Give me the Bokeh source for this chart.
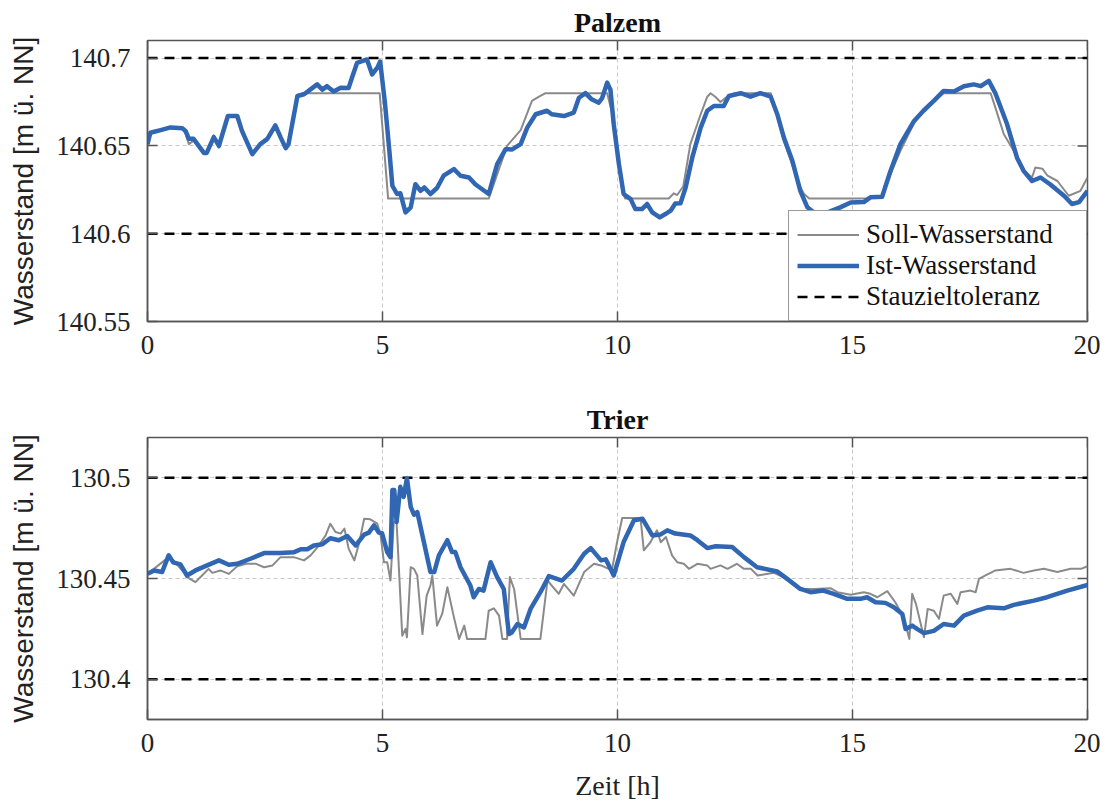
import math
from bokeh.plotting import figure
from bokeh.layouts import column
from bokeh.models import (FixedTicker, Legend, LegendItem, Range1d, CustomJSTickFormatter)
from bokeh.embed import file_html
from bokeh.resources import INLINE

# ---------------- data ----------------
X_TICKS = [0, 5, 10, 15, 20]
X_LIMITS = [0, 20]

# Palzem
P_Y_TICKS = [140.55, 140.6, 140.65, 140.7]
P_Y_LIMITS = [140.55, 140.71]
P_TOL = [140.6, 140.7]

P_IST_T = [0, 0.06, 0.28, 0.49, 0.74, 0.81, 0.88, 0.98, 1.2, 1.26, 1.41, 1.52, 1.71, 1.91, 2.01,
           2.23, 2.40, 2.55, 2.72, 2.83, 2.94, 3.0, 3.19, 3.33, 3.47, 3.61, 3.72, 3.82, 3.96, 4.11,
           4.28, 4.35, 4.46, 4.67, 4.78, 4.89, 4.95, 5.05, 5.14, 5.21, 5.31, 5.38, 5.49, 5.60, 5.70,
           5.81, 5.89, 6.02, 6.16, 6.30, 6.52, 6.66, 6.84, 6.98, 7.26, 7.44, 7.62, 7.76, 7.94, 8.08,
           8.26, 8.50, 8.60, 8.86, 9.07, 9.18, 9.32, 9.45, 9.60, 9.67, 9.78, 9.85, 9.92, 10.03, 10.13,
           10.28, 10.38, 10.52, 10.63, 10.74, 10.90, 11.02, 11.13, 11.23, 11.34, 11.45, 11.59, 11.77,
           11.91, 12.05, 12.26, 12.37, 12.62, 12.83, 13.04, 13.26, 13.40, 13.54, 13.72, 13.89, 14.04,
           14.18, 14.46, 14.74, 14.96, 15.24, 15.38, 15.63, 15.81, 16.02, 16.31, 16.51, 16.73, 16.94,
           17.16, 17.37, 17.58, 17.73, 17.90, 18.04, 18.29, 18.50, 18.64, 18.82, 19.0, 19.21, 19.50,
           19.67, 19.82, 20.0]
P_IST = [140.651, 140.6575, 140.659, 140.6605, 140.660, 140.6585, 140.654, 140.654, 140.646, 140.646,
         140.655, 140.650, 140.667, 140.667, 140.6585, 140.6453, 140.651, 140.654, 140.6617, 140.655,
         140.6487, 140.651, 140.6784, 140.6794, 140.6822, 140.685, 140.682, 140.684, 140.681, 140.6831,
         140.683, 140.6888, 140.6973, 140.6992, 140.6907, 140.6945, 140.698, 140.675, 140.649, 140.6273,
         140.6226, 140.623, 140.6121, 140.615, 140.6282, 140.6244, 140.6263, 140.6226, 140.626, 140.633,
         140.6368, 140.633, 140.632, 140.628, 140.6226, 140.6396, 140.6481, 140.648, 140.651, 140.6604,
         140.668, 140.670, 140.668, 140.667, 140.669, 140.6774, 140.680, 140.6765, 140.6746, 140.677,
         140.686, 140.682, 140.6623, 140.6396, 140.6226, 140.6197, 140.614, 140.614, 140.6169, 140.6121,
         140.6093, 140.6112, 140.6131, 140.6172, 140.6173, 140.6263, 140.6433, 140.6604, 140.670,
         140.6727, 140.6727, 140.6784, 140.680, 140.678, 140.680, 140.678, 140.668, 140.6547, 140.6415,
         140.6244, 140.615, 140.6121, 140.612, 140.615, 140.6178, 140.618, 140.6207, 140.621, 140.6358,
         140.651, 140.6642, 140.670, 140.6756, 140.6813, 140.681, 140.684, 140.685, 140.684, 140.687,
         140.680, 140.6623, 140.6433, 140.6358, 140.630, 140.632, 140.628, 140.6216, 140.6169, 140.618,
         140.6244]

P_SOLL_T = [0, 0.06, 0.28, 0.49, 0.74, 0.81, 0.88, 0.98, 1.2, 1.26, 1.41, 1.52, 1.71, 1.91, 2.01,
            2.23, 2.40, 2.55, 2.72, 2.83, 2.94, 3.0, 3.19, 3.3, 4.94, 5.12, 7.26, 7.65, 7.94, 8.18,
            8.33, 8.47, 9.78, 9.92, 10.03, 10.1, 10.16, 11.09, 11.2, 11.27, 11.4, 11.55, 11.77, 11.91,
            11.98, 12.08, 12.19, 12.33, 12.5, 13.26, 13.54, 13.89, 13.97, 14.08, 14.89, 15.3, 15.63,
            15.81, 16.02, 16.31, 16.51, 16.73, 16.94, 17.94, 18.04, 18.22, 18.43, 18.64, 18.82, 18.89,
            19.04, 19.15, 19.36, 19.6, 19.85, 20.0]
P_SOLL = [140.651, 140.657, 140.659, 140.660, 140.660, 140.657, 140.651, 140.653, 140.647, 140.646,
          140.656, 140.649, 140.667, 140.667, 140.658, 140.645, 140.651, 140.654, 140.661, 140.655,
          140.649, 140.651, 140.678, 140.68, 140.68, 140.62, 140.62, 140.65, 140.659, 140.6756,
          140.678, 140.68, 140.68, 140.665, 140.642, 140.625, 140.62, 140.62, 140.623, 140.622,
          140.627, 140.651, 140.668, 140.678, 140.680, 140.678, 140.675, 140.678, 140.68, 140.68,
          140.6528, 140.6263, 140.6226, 140.62, 140.62, 140.62, 140.621, 140.634, 140.6472, 140.663,
          140.670, 140.676, 140.68, 140.68, 140.6718, 140.6566, 140.6472, 140.636, 140.632, 140.6377,
          140.637, 140.633, 140.630, 140.6216, 140.6244, 140.632]

# Trier
T_Y_TICKS = [130.4, 130.45, 130.5]
T_Y_LIMITS = [130.38, 130.52]
T_TOL = [130.4, 130.5]

T_IST_T = [0, 0.14, 0.31, 0.45, 0.55, 0.70, 0.84, 1.02, 1.27, 1.52, 1.73, 1.91, 2.19, 2.48, 2.83,
           3.11, 3.26, 3.40, 3.54, 3.72, 3.89, 4.07, 4.25, 4.43, 4.61, 4.71, 4.82, 4.92, 4.99, 5.10,
           5.17, 5.21, 5.25, 5.30, 5.38, 5.45, 5.52, 5.60, 5.67, 5.74, 5.88, 6.02, 6.10, 6.20, 6.38,
           6.48, 6.55, 6.66, 6.87, 6.94, 7.05, 7.15, 7.30, 7.44, 7.58, 7.69, 7.75, 7.87, 8.01, 8.15,
           8.36, 8.54, 8.82, 9.07, 9.29, 9.43, 9.65, 9.75, 9.92, 10.13, 10.35, 10.53, 10.74, 10.91,
           11.06, 11.23, 11.55, 11.70, 11.91, 12.09, 12.44, 12.69, 12.97, 13.40, 13.61, 13.89, 14.11,
           14.38, 14.60, 14.89, 15.17, 15.31, 15.49, 15.70, 15.88, 16.06, 16.13, 16.27, 16.38, 16.52,
           16.73, 16.94, 17.16, 17.37, 17.65, 17.87, 18.22, 18.43, 18.86, 19.14, 19.57, 20.0]
T_IST = [130.4523, 130.454, 130.4532, 130.4615, 130.458, 130.457, 130.4515, 130.454, 130.4565,
         130.459, 130.4568, 130.4573, 130.4598, 130.4626, 130.4626, 130.463, 130.4645, 130.4645,
         130.4664, 130.467, 130.470, 130.469, 130.4711, 130.4664, 130.4718, 130.4728, 130.4764,
         130.4728, 130.4725, 130.4631, 130.4606, 130.4939, 130.4939, 130.478, 130.4955, 130.4905,
         130.4997, 130.4856, 130.4817, 130.483, 130.4681, 130.4532, 130.4532, 130.4615, 130.469,
         130.4631, 130.4631, 130.4556, 130.4465, 130.4407, 130.4448, 130.444, 130.4581, 130.4507,
         130.4448, 130.4224, 130.4232, 130.4274, 130.4257, 130.4349, 130.4432, 130.4512, 130.449,
         130.4548, 130.4623, 130.4651, 130.459, 130.4595, 130.4515, 130.4681, 130.4789, 130.4797,
         130.4714, 130.4718, 130.4739, 130.4723, 130.4714, 130.469, 130.4651, 130.466, 130.4656,
         130.4606, 130.4556, 130.4535, 130.4498, 130.4448, 130.4432, 130.444, 130.4424, 130.4399,
         130.4399, 130.4407, 130.4382, 130.4379, 130.4357, 130.4324, 130.4249, 130.4266, 130.4249,
         130.4229, 130.424, 130.4274, 130.4266, 130.4316, 130.4341, 130.4357, 130.4352, 130.4369,
         130.439, 130.4407, 130.444, 130.4468]

T_SOLL_T = [0, 0.45, 0.55, 0.77, 0.84, 1.02, 1.16, 1.30, 1.38, 1.55, 1.73, 1.91, 2.10, 2.31, 2.48,
            2.66, 2.83, 3.11, 3.33, 3.47, 3.62, 3.79, 3.89, 4.00, 4.11, 4.19, 4.28, 4.40, 4.50, 4.61,
            4.74, 4.89, 4.96, 5.03, 5.10, 5.17, 5.24, 5.30, 5.42, 5.49, 5.52, 5.60, 5.67, 5.74, 5.85,
            5.94, 6.02, 6.06, 6.16, 6.27, 6.38, 6.52, 6.63, 6.74, 6.80, 7.19, 7.26, 7.37, 7.48, 7.55,
            7.65, 7.71, 7.80, 7.94, 8.36, 8.51, 8.75, 8.86, 9.07, 9.29, 9.50, 9.65, 9.88, 9.99, 10.10,
            10.49, 10.56, 10.70, 10.84, 10.92, 11.03, 11.16, 11.27, 11.41, 11.52, 11.70, 11.91, 11.98,
            12.19, 12.34, 12.54, 12.69, 12.84, 12.98, 13.33, 13.61, 13.89, 14.18, 14.53, 14.68, 14.96,
            15.24, 15.38, 15.53, 15.74, 15.91, 16.09, 16.21, 16.27, 16.35, 16.52, 16.60, 16.73, 16.84,
            16.94, 17.09, 17.23, 17.30, 17.51, 17.62, 17.69, 17.83, 17.97, 18.04, 18.36, 18.64, 18.86,
            19.07, 19.36, 19.64, 19.86, 20.0]
T_SOLL = [130.4523, 130.4606, 130.459, 130.4532, 130.4507, 130.4482, 130.4515, 130.4548, 130.4528,
          130.454, 130.4523, 130.4561, 130.4573, 130.4573, 130.4556, 130.4565, 130.4606, 130.4606,
          130.459, 130.4615, 130.4656, 130.4714, 130.4772, 130.4731, 130.4723, 130.4748, 130.4648,
          130.459, 130.4673, 130.4797, 130.4794, 130.4772, 130.4714, 130.4581, 130.4581, 130.449,
          130.478, 130.478, 130.4216, 130.425, 130.4208, 130.4556, 130.4548, 130.4515, 130.4224,
          130.4415, 130.4465, 130.4515, 130.4266, 130.4324, 130.4457, 130.4307, 130.42, 130.4266,
          130.42, 130.42, 130.434, 130.4352, 130.4316, 130.42, 130.42, 130.4507, 130.4448, 130.42,
          130.42, 130.449, 130.4424, 130.4473, 130.4415, 130.4532, 130.4573, 130.4565, 130.454,
          130.468, 130.48, 130.48, 130.464, 130.468, 130.4739, 130.468, 130.4706, 130.4615, 130.4581,
          130.4573, 130.4548, 130.4573, 130.4565, 130.4548, 130.4565, 130.4548, 130.4573, 130.4548,
          130.4548, 130.4515, 130.4528, 130.4498, 130.4448, 130.4448, 130.4452, 130.4432, 130.4419,
          130.4432, 130.4424, 130.4407, 130.4437, 130.4382, 130.4307, 130.42, 130.4424, 130.4374,
          130.4208, 130.4349, 130.434, 130.43, 130.4415, 130.4424, 130.4374, 130.4432, 130.444,
          130.4432, 130.4498, 130.4515, 130.4532, 130.454, 130.4548, 130.4528, 130.454, 130.4548,
          130.4532, 130.4548, 130.4548, 130.4561]

LABELS = ["Soll-Wasserstand", "Ist-Wasserstand", "Stauzieltoleranz"]
Y_LABEL = "Wasserstand [m ü. NN]"
X_LABEL = "Zeit [h]"

# ---------------- style ----------------
BLUE = "#3066b2"
GRAY = "#8a8a8a"
FRAME = "#555555"
GRID = "#c8c8c8"
SERIF = "Liberation Serif"
SANS = "Liberation Sans"

FMT = CustomJSTickFormatter(code="return String(Math.round(tick*1000)/1000);")


def make_panel(title, soll_t, soll, ist_t, ist, tol, ylim, yticks, height, b_top, b_bottom,
               xlabel=None, legend=False):
    p = figure(width=1100, height=height,
               x_range=Range1d(X_LIMITS[0], X_LIMITS[1]), y_range=Range1d(ylim[0], ylim[1]),
               output_backend="svg", toolbar_location=None,
               min_border_left=147, min_border_right=13,
               min_border_top=b_top, min_border_bottom=b_bottom)
    p.title.text = title
    p.title.align = "center"
    p.title.text_font = SERIF
    p.title.text_font_size = "28px"
    p.title.text_font_style = "bold"
    p.title.text_color = "#111111"
    p.title.standoff = 6
    p.outline_line_color = FRAME
    p.outline_line_width = 1.5

    # grid
    p.xgrid.ticker = FixedTicker(ticks=X_TICKS)
    p.ygrid.ticker = FixedTicker(ticks=yticks)
    for g in (p.xgrid, p.ygrid):
        g.grid_line_color = GRID
        g.grid_line_dash = "4 3"
        g.grid_line_width = 1

    # axes
    xa = p.xaxis[0]
    xa.ticker = FixedTicker(ticks=X_TICKS)
    ya = p.yaxis[0]
    ya.ticker = FixedTicker(ticks=yticks)
    ya.formatter = FMT
    ya.axis_label = Y_LABEL
    ya.axis_label_text_font = SANS
    ya.axis_label_text_font_size = "28px"
    ya.axis_label_text_font_style = "normal"
    ya.axis_label_text_color = "#222222"
    ya.axis_label_standoff = 14
    if xlabel:
        xa.axis_label = xlabel
        xa.axis_label_text_font = SERIF
        xa.axis_label_text_font_size = "28px"
        xa.axis_label_text_font_style = "normal"
        xa.axis_label_text_color = "#222222"
        xa.axis_label_standoff = 15
    for ax in (xa, ya):
        ax.axis_line_color = FRAME
        ax.axis_line_width = 1.5
        ax.major_tick_line_color = FRAME
        ax.major_tick_line_width = 1.5
        ax.major_tick_in = 10
        ax.major_tick_out = 0
        ax.minor_tick_line_color = None
        ax.major_label_text_font = SERIF
        ax.major_label_text_font_size = "27px"
        ax.major_label_text_color = "#222222"
    xa.major_label_standoff = 14
    ya.major_label_standoff = 17

    # inward ticks on the top and right frame edges (clipped at the frame)
    p.scatter(x=X_TICKS, y=[ylim[1]] * len(X_TICKS), marker="dash", size=20,
              angle=math.pi / 2, line_color=FRAME, line_width=1.5)
    p.scatter(x=[X_LIMITS[1]] * len(yticks), y=yticks, marker="dash", size=20,
              line_color=FRAME, line_width=1.5)

    # data
    r_tol = p.multi_line(xs=[[X_LIMITS[0], X_LIMITS[1]] for _ in tol],
                         ys=[[v, v] for v in tol],
                         line_color="black", line_width=2.5, line_dash="10 7")
    r_soll = p.line(soll_t, soll, line_color=GRAY, line_width=2, line_join="round")
    r_ist = p.line(ist_t, ist, line_color=BLUE, line_width=4.5, line_join="round")

    if legend:
        lg = Legend(items=[LegendItem(label=LABELS[0], renderers=[r_soll]),
                           LegendItem(label=LABELS[1], renderers=[r_ist]),
                           LegendItem(label=LABELS[2], renderers=[r_tol])],
                    location="bottom_right")
        lg.margin = 0
        lg.padding = 8
        lg.spacing = 0
        lg.glyph_width = 62
        lg.glyph_height = 29
        lg.label_height = 29
        lg.label_width = 212
        lg.label_standoff = 7
        lg.label_text_font = SERIF
        lg.label_text_font_size = "27px"
        lg.label_text_color = "#111111"
        lg.border_line_color = "#333333"
        lg.border_line_width = 1.5
        lg.background_fill_alpha = 1
        p.add_layout(lg)
    return p


p1 = make_panel("Palzem", P_SOLL_T, P_SOLL, P_IST_T, P_IST, P_TOL, P_Y_LIMITS, P_Y_TICKS,
                380, 40, 59, legend=True)
p2 = make_panel("Trier", T_SOLL_T, T_SOLL, T_IST_T, T_IST, T_TOL, T_Y_LIMITS, T_Y_TICKS,
                423, 57, 83, xlabel=X_LABEL)

layout = column(p1, p2, spacing=0)
open("out.html", "w").write(file_html(layout, INLINE))
